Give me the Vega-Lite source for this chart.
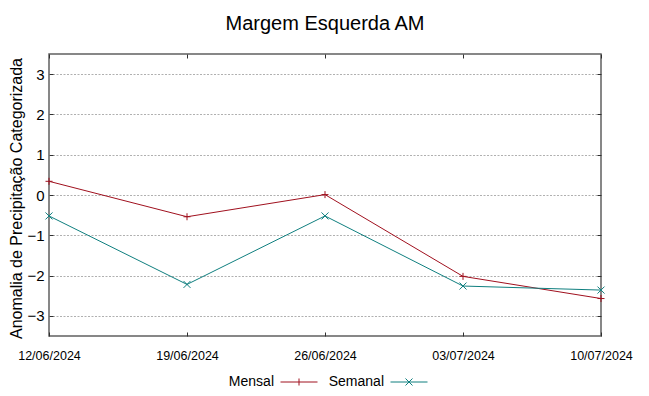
{
  "$schema": "https://vega.github.io/schema/vega-lite/v6.json",
  "autosize": "none",
  "width": 552,
  "height": 282,
  "padding": {"left": 49, "top": 54, "right": 48, "bottom": 60},
  "background": "white",
  "title": {"text": "Margem Esquerda AM", "fontSize": 20, "font": "Liberation Sans", "fontWeight": "normal", "color": "#000000", "anchor": "middle", "offset": 20},
  "config": {
    "view": {"stroke": "#606060", "strokeWidth": 1.5},
    "font": "Liberation Sans"
  },
  "data": {"values": [
    {"data": "12/06/2024", "serie": "Mensal", "valor": 0.34},
    {"data": "19/06/2024", "serie": "Mensal", "valor": -0.54},
    {"data": "26/06/2024", "serie": "Mensal", "valor": 0.01},
    {"data": "03/07/2024", "serie": "Mensal", "valor": -2.02},
    {"data": "10/07/2024", "serie": "Mensal", "valor": -2.57},
    {"data": "12/06/2024", "serie": "Semanal", "valor": -0.52},
    {"data": "19/06/2024", "serie": "Semanal", "valor": -2.22},
    {"data": "26/06/2024", "serie": "Semanal", "valor": -0.52},
    {"data": "03/07/2024", "serie": "Semanal", "valor": -2.26},
    {"data": "10/07/2024", "serie": "Semanal", "valor": -2.36}
  ]},
  "layer": [
    {
      "mark": {"type": "line", "strokeWidth": 1},
      "encoding": {
        "x": {"field": "data", "type": "ordinal", "sort": null,
              "scale": {"type": "point", "padding": 0},
              "axis": {"orient": "bottom", "title": null, "labelAngle": 0, "labelFont": "Liberation Sans", "labelFontSize": 12.5, "labelColor": "#000000", "labelPadding": 17, "tickSize": -4, "tickColor": "#303030", "domain": false, "grid": false}},
        "y": {"field": "valor", "type": "quantitative",
              "scale": {"domain": [-3.5, 3.5], "nice": false, "zero": false},
              "axis": {"orient": "left", "title": "Anomalia de Precipitação Categorizada", "titleFontSize": 16, "titleFontWeight": "normal", "titleColor": "#000000", "titleY": 144, "titleX": -25, "titleAlign": "center", "titleBaseline": "bottom", "titleAngle": -90,
                       "values": [-3, -2, -1, 0, 1, 2, 3], "labelFontSize": 15, "labelColor": "#000000", "labelPadding": 9, "tickSize": -4, "tickColor": "#303030", "domain": false,
                       "grid": true, "gridColor": "#b0b0b0", "gridDash": [2, 1.5], "gridWidth": 1}},
        "color": {"field": "serie", "type": "nominal",
                  "scale": {"domain": ["Mensal", "Semanal"], "range": ["#a0101e", "#0f7f7f"]},
                  "legend": {"title": null, "orient": "none", "legendX": 231, "legendY": 309, "direction": "horizontal",
                             "labelFontSize": 14, "labelColor": "#000000", "labelAlign": "right", "labelOffset": -44, "labelBaseline": "middle",
                             "symbolSize": 1369, "symbolStrokeWidth": 1, "columnPadding": 8,
                             "encoding": {"symbols": {
                               "shape": {"value": {"expr": "datum.value === 'Mensal' ? 'M-1,0H1M0,-0.19V0.19' : 'M-1,0H1M-0.19,-0.19L0.19,0.19M-0.19,0.19L0.19,-0.19'"}},
                               "size": {"value": 1369},
                               "fill": {"value": "transparent"},
                               "strokeWidth": {"value": 1}
                             }}}}
      }
    },
    {
      "transform": [{"filter": "datum.serie === 'Mensal'"}],
      "mark": {"type": "point", "filled": false, "strokeWidth": 1, "size": 49, "opacity": 1, "shape": "M-1,0H1M0,-1V1"},
      "encoding": {
        "x": {"field": "data", "type": "ordinal", "sort": null,
              "scale": {"type": "point", "padding": 0},
              "axis": {"orient": "top", "title": null, "labels": false, "tickSize": -4, "tickColor": "#303030", "domain": false, "grid": false}},
        "y": {"field": "valor", "type": "quantitative",
              "scale": {"domain": [-3.5, 3.5], "nice": false, "zero": false},
              "axis": {"orient": "right", "title": null, "labels": false, "values": [-3, -2, -1, 0, 1, 2, 3], "tickSize": -4, "tickColor": "#303030", "domain": false, "grid": false}},
        "color": {"field": "serie", "type": "nominal",
                  "scale": {"domain": ["Mensal", "Semanal"], "range": ["#a0101e", "#0f7f7f"]}}
      }
    },
    {
      "transform": [{"filter": "datum.serie === 'Semanal'"}],
      "mark": {"type": "point", "filled": false, "strokeWidth": 1, "size": 49, "opacity": 1, "shape": "M-1,-1L1,1M-1,1L1,-1"},
      "encoding": {
        "x": {"field": "data", "type": "ordinal", "sort": null,
              "scale": {"type": "point", "padding": 0}, "axis": null},
        "y": {"field": "valor", "type": "quantitative",
              "scale": {"domain": [-3.5, 3.5], "nice": false, "zero": false}, "axis": null},
        "color": {"field": "serie", "type": "nominal",
                  "scale": {"domain": ["Mensal", "Semanal"], "range": ["#a0101e", "#0f7f7f"]}}
      }
    }
  ],
  "resolve": {"axis": {"x": "independent", "y": "independent"}}
}
